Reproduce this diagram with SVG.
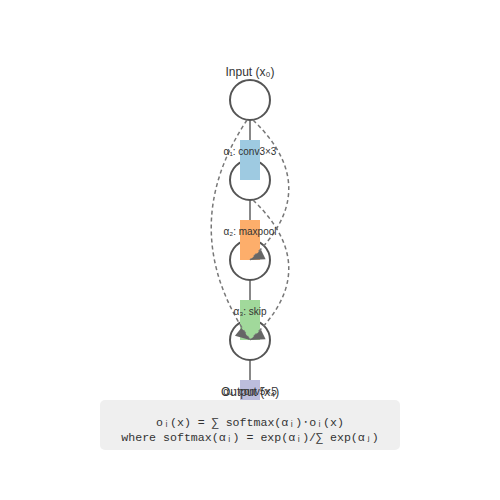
<svg xmlns="http://www.w3.org/2000/svg" width="500" height="500" viewBox="0 0 500 500">
  <style>
    .node { fill: #ffffff; stroke: #555555; stroke-width: 2; }
    .link { stroke: #888888; stroke-width: 2; fill: none; }
    .skip { stroke: #777777; stroke-width: 1.5; fill: none; stroke-dasharray: 4 3; }
    .nlabel { font-family: "Liberation Sans", Arial, sans-serif; font-size: 12px; fill: #333333; text-anchor: middle; }
    .elabel { font-family: "Liberation Sans", Arial, sans-serif; font-size: 10px; fill: #333333; text-anchor: middle; }
    .formula { font-family: "Liberation Mono", "DejaVu Sans Mono", monospace; font-size: 11.6px; fill: #333333; text-anchor: middle; }
  </style>
  <defs>
    <marker id="arrowR" markerUnits="userSpaceOnUse" orient="auto" viewBox="-16 -12 17 24" refX="0" refY="0" markerWidth="17" markerHeight="24">
      <path d="M0,0 L-15,0 L-12,-10 z" fill="#666666"/>
    </marker>
    <marker id="arrowL" markerUnits="userSpaceOnUse" orient="auto" viewBox="-16 -12 17 24" refX="0" refY="0" markerWidth="17" markerHeight="24">
      <path d="M0,0 L-15,0 L-12,10 z" fill="#666666"/>
    </marker>
  </defs>
  <rect x="0" y="0" width="500" height="500" fill="#ffffff"/>

  <g id="connectors-base">
    <line class="link" x1="250" y1="120" x2="250" y2="160"/>
    <line class="link" x1="250" y1="200" x2="250" y2="240"/>
    <line class="link" x1="250" y1="280" x2="250" y2="320"/>
    <line class="link" x1="250" y1="360" x2="250" y2="400"/>
  </g>

  <g id="node-input">
    <circle class="node" cx="250" cy="100" r="20"/>
    <text class="nlabel" x="250" y="75.5">Input (x₀)</text>
  </g>
  <g id="node-x1">
    <circle class="node" cx="250" cy="180" r="20"/>
  </g>
  <g id="node-x2">
    <circle class="node" cx="250" cy="260" r="20"/>
  </g>
  <g id="node-x3">
    <circle class="node" cx="250" cy="340" r="20"/>
  </g>

  <g id="ops">
    <rect x="240" y="140" width="20" height="40" fill="#9ecae1"/>
    <rect x="240" y="220" width="20" height="40" fill="#fdae6b"/>
    <rect x="240" y="300" width="20" height="40" fill="#a1d99b"/>
    <rect x="240" y="380" width="20" height="40" fill="#bcbddc"/>
  </g>

  <g id="connectors">
    <path class="skip" d="M253,120 Q326,190 250,260" marker-end="url(#arrowR)"/>
    <path class="skip" d="M247,120 Q174,230 250,340" marker-end="url(#arrowL)"/>
    <path class="skip" d="M253,200 Q326,270 250,340" marker-end="url(#arrowR)"/>
  </g>

  <g id="op-labels">
    <text class="elabel" x="250" y="155">α₁: conv3×3</text>
    <text class="elabel" x="250" y="234.5">α₂: maxpool</text>
    <text class="elabel" x="250" y="314.5">α₃: skip</text>
    <text class="elabel" x="250" y="394.5">α₄: conv5×5</text>
  </g>

  <g id="node-output">
    <text class="nlabel" x="250" y="395.5">Output (x₄)</text>
  </g>

  <g id="formula">
    <rect x="100" y="400" width="300" height="50" rx="5" ry="5" fill="#efefef"/>
    <text class="formula" x="250" y="425.5">oᵢ(x) = ∑ softmax(αᵢ)⋅oᵢ(x)</text>
    <text class="formula" x="250" y="440.5">where softmax(αᵢ) = exp(αᵢ)/∑ exp(αⱼ)</text>
  </g>
</svg>
